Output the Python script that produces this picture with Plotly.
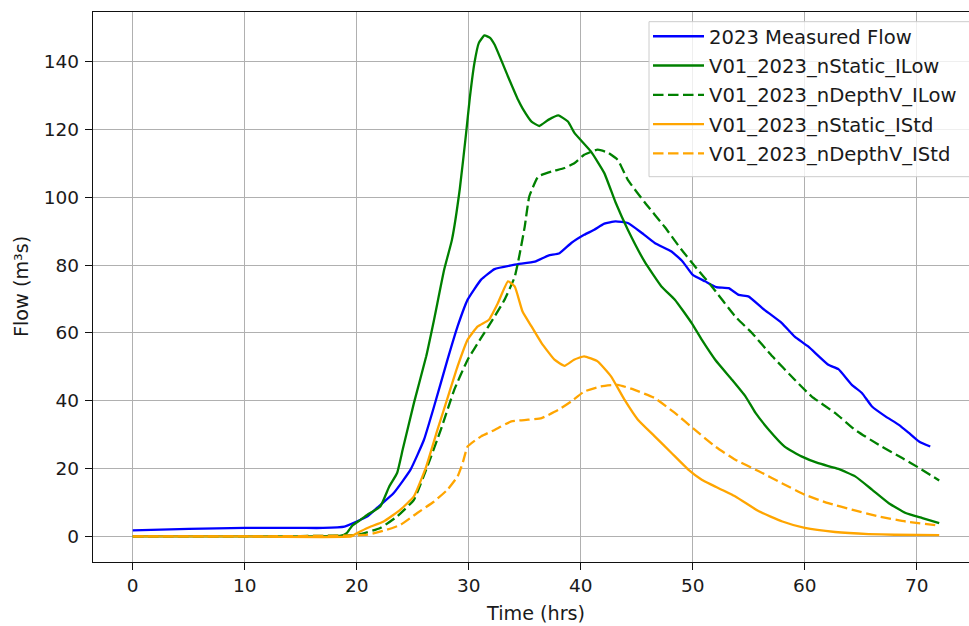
import plotly.graph_objects as go

# ---- data ----
meas_t = [0, 5, 10, 15, 17, 18.9, 20, 21, 21.8, 23.3, 24.8, 26.0, 26.9, 28.1, 29.0, 29.9, 31.1, 32.3,
          34.1, 35.9, 37.1, 38.1, 39.15, 40.3, 41.2, 42.1, 43.1, 44.2, 45.4, 46.6, 48.1, 49.1, 50.0,
          51.1, 52.1, 53.2, 54.1, 55.0, 56.2, 57.95, 59.1, 60.3, 62.1, 63.0, 64.2, 65.1, 66.0, 67.2,
          68.4, 69.3, 70.2, 71.2]
meas_q = [1.8, 2.2, 2.5, 2.5, 2.5, 2.9, 4.4, 6.0, 8.4, 12.8, 19.7, 28.5, 38.3, 52.1, 61.9, 69.8, 75.7,
          78.8, 80.1, 81.0, 82.8, 83.5, 86.5, 88.9, 90.4, 92.2, 92.9, 92.4, 89.6, 86.5, 84.0, 81.0,
          77.1, 75.2, 73.5, 73.2, 71.2, 70.7, 67.3, 62.9, 58.9, 56.0, 50.6, 49.3, 44.7, 42.3, 38.3,
          35.4, 32.9, 30.5, 28.0, 26.5]

ns_ilow_t = [0, 10, 18.6, 19.1, 19.6, 20.3, 20.95, 22.1, 22.9, 23.6, 24.1, 25.1, 26.2, 26.9, 27.8,
             28.5, 29.2, 29.75, 30.1, 30.5, 30.9, 31.4, 31.9, 32.3, 33.5, 34.4, 34.8, 35.6, 36.3,
             37.1, 38.0, 38.85, 39.45, 40.9, 42.1, 43.1, 44.2, 45.7, 47.2, 48.4, 49.9, 50.8, 52.0,
             53.5, 54.7, 55.6, 56.8, 58.2, 59.7, 61.2, 63.0, 64.5, 66.0, 67.5, 69.0, 70.5, 72.0]
ns_ilow_q = [0, 0, 0.2, 1.0, 3.2, 4.8, 6.4, 8.8, 14.7, 18.7, 25.6, 39.3, 53.1, 63.9, 78.6,
             87.5, 102.5, 118.5, 129.5, 139.5, 145.5, 147.7, 147.0, 145.0, 135.6, 128.7, 126.2,
             122.3, 121.0, 122.8, 124.1, 122.3, 118.9, 113.5, 107.1, 98.5, 90.4, 81.0, 73.7, 69.8,
             62.9, 58.0, 52.1, 46.2, 41.3, 36.4, 31.4, 26.5, 23.6, 21.6, 19.9, 17.7, 13.8, 9.8,
             6.9, 5.4, 3.9]

nd_ilow_t = [0, 10, 20.05, 22.1, 23.6, 25.1, 26.3, 27.5, 28.7, 29.9, 31.1, 32.3, 33.2, 34.1, 34.5,
             35.0, 35.4, 36.2, 37.4, 38.55, 39.45, 40.3, 41.5, 42.4, 43.3, 44.2, 45.7, 47.5, 49.0,
             50.2, 51.7, 53.8, 55.3, 57.1, 59.1, 60.6, 62.7, 64.5, 66.6, 68.7, 70.2, 72.0]
nd_ilow_q = [0, 0, 0.5, 2.5, 5.9, 10.8, 20.6, 31.4, 43.2, 52.1, 58.5, 64.8, 69.8, 76.5, 82.5, 91.4,
             100.2, 106.1, 107.6, 108.6, 110.1, 112.5, 114.0, 113.2, 111.0, 105.1, 98.5, 91.2,
             84.5, 79.6, 73.7, 64.8, 59.9, 53.1, 46.2, 41.3, 36.4, 31.4, 27.0, 23.1, 20.2, 16.5]

ns_istd_t = [0, 10, 19.5, 20.05, 20.95, 22.4, 23.9, 25.1, 26.2, 27.2, 28.25, 29.0, 29.9, 30.8, 31.8,
             32.6, 33.5, 34.1, 34.8, 35.6, 36.5, 37.65, 38.55, 39.4, 40.3, 41.5, 42.7, 43.9, 45.1,
             46.6, 48.1, 49.6, 50.8, 51.7, 53.8, 55.9, 58.0, 60.0, 62.7, 65.7, 68.0, 72.0]
ns_istd_q = [0, 0, 0, 1.0, 2.5, 4.4, 7.9, 11.8, 20.6, 31.4, 42.3, 50.1, 58.0, 61.9, 63.9, 68.8,
             75.2, 73.7, 66.3, 61.9, 57.0, 52.1, 50.3, 52.1, 53.1, 51.6, 47.2, 40.3, 34.4, 29.5,
             24.6, 19.7, 16.7, 15.2, 11.8, 7.4, 4.4, 2.5, 1.3, 0.7, 0.5, 0.4]

nd_istd_t = [0, 10, 20.95, 22.7, 23.9, 25.4, 26.9, 28.1, 29.0, 29.45, 29.9, 31.1, 32.3, 33.8, 35.3,
             36.5, 38.0, 39.15, 40.3, 41.8, 43.3, 44.8, 46.6, 48.4, 50.2, 52.0, 53.8, 55.9, 57.95,
             60.0, 62.1, 64.2, 66.6, 69.0, 72.0]
nd_istd_q = [0, 0, 0.5, 2.0, 3.4, 6.9, 10.3, 13.8, 17.7, 21.6, 26.5, 29.5, 31.4, 33.9, 34.4, 34.9,
             37.3, 39.8, 42.7, 44.2, 44.7, 43.2, 40.8, 36.4, 31.4, 26.5, 22.6, 19.2, 15.7, 12.3,
             9.8, 7.9, 5.9, 4.4, 3.2]

names = ["2023 Measured Flow", "V01_2023_nStatic_ILow", "V01_2023_nDepthV_ILow",
         "V01_2023_nStatic_IStd", "V01_2023_nDepthV_IStd"]
x_ticks = [0, 10, 20, 30, 40, 50, 60, 70]
y_ticks = [0, 20, 40, 60, 80, 100, 120, 140]

# ---- figure ----
W, H = 969, 626
L, R, T, B = 93, 0, 12, 64
FONT = "DejaVu Sans"
FS = 18.5
FS_T = 19.2
FS_L = 19.6
LW = 2.3
DASH = "10.5px,4.5px"

series = [
    (meas_t, meas_q, names[0], "blue", "solid"),
    (ns_ilow_t, ns_ilow_q, names[1], "green", "solid"),
    (nd_ilow_t, nd_ilow_q, names[2], "green", DASH),
    (ns_istd_t, ns_istd_q, names[3], "orange", "solid"),
    (nd_istd_t, nd_istd_q, names[4], "orange", DASH),
]

fig = go.Figure()
for i, (t, q, n, c, d) in enumerate(series):
    fig.add_trace(go.Scatter(x=t, y=q, name=n, mode="lines", legendgroup=f"g{i}",
                             line=dict(color=c, width=LW, dash=d, shape="spline", smoothing=0.4)))

pw = W - L - R
ph = H - T - B


def px_x(p):
    return (p - L) / pw


def px_y(p):
    return (H - B - p) / ph


axis_common = dict(showgrid=True, gridcolor="#b0b0b0", gridwidth=1.3, zeroline=False,
                   showline=True, linecolor="#111111", linewidth=1.4,
                   ticks="outside", ticklen=7, tickwidth=1.4, tickcolor="#111111",
                   tickfont=dict(family=FONT, size=FS, color="#1a1a1a"))

fig.update_layout(
    width=W, height=H, autosize=False,
    margin=dict(l=L, r=R, t=T, b=B, pad=0),
    paper_bgcolor="white", plot_bgcolor="white",
    font=dict(family=FONT, size=FS, color="#1a1a1a"),
    xaxis=dict(range=[-3.55, 74.66], tickvals=x_ticks, mirror=True, **axis_common),
    yaxis=dict(range=[-7.54, 154.6], tickvals=y_ticks, ticklabelstandoff=2, **axis_common),
    showlegend=True,
    legend=dict(x=px_x(648), y=px_y(17), xanchor="left", yanchor="top",
                bgcolor="rgba(0,0,0,0)", borderwidth=0,
                font=dict(family=FONT, size=FS_L, color="#1a1a1a"),
                tracegroupgap=0.8, traceorder="grouped", itemwidth=51),
    shapes=[dict(type="rect", xref="paper", yref="paper",
                 x0=px_x(649), x1=px_x(990), y0=px_y(176.7), y1=px_y(21.7),
                 fillcolor="rgba(255,255,255,0.8)", line=dict(color="#cccccc", width=1),
                 layer="above")],
    annotations=[
        dict(text="Time (hrs)", xref="paper", yref="paper", x=px_x(535),
             y=px_y(613), xanchor="center", yanchor="middle", showarrow=False,
             font=dict(family=FONT, size=FS_T, color="#1a1a1a")),
        dict(text="Flow (m³s)", xref="paper", yref="paper", x=px_x(21),
             y=0.5, xanchor="center", yanchor="middle", textangle=-90, showarrow=False,
             font=dict(family=FONT, size=FS_T, color="#1a1a1a")),
    ],
)

fig.write_html("out.html")
